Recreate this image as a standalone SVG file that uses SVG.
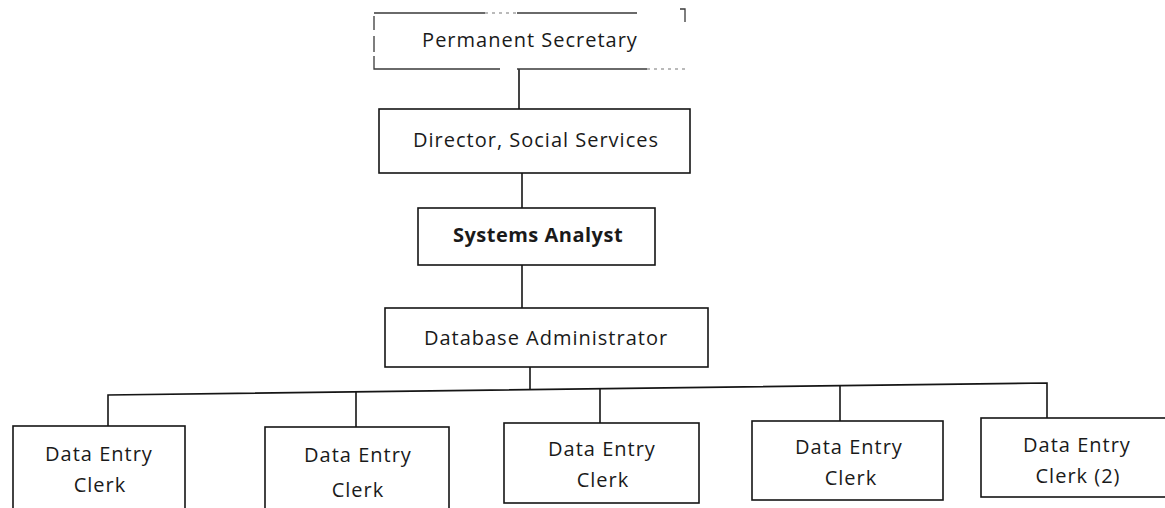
<svg xmlns="http://www.w3.org/2000/svg" width="1165" height="508" viewBox="0 0 1165 508">
<style>
  .box { fill: #ffffff; stroke: #151515; stroke-width: 1.6; }
  .faint { fill: none; stroke: #3a3a3a; stroke-width: 1.3; }
  .dots { fill: none; stroke: #777777; stroke-width: 1.2; stroke-dasharray: 3 4; }
  .lbl { font-family: "Open Sans", "Noto Sans", "DejaVu Sans", sans-serif; font-size: 20px; fill: #1a1a1a; text-anchor: middle; letter-spacing: 1px; }
  .bold { font-weight: bold; letter-spacing: 0.5px; }
  .conn { fill: none; stroke: #151515; stroke-width: 1.6; }
</style>
<rect width="1165" height="508" fill="#ffffff"/>
<g id="connectors">
  <line class="conn" x1="519" y1="69" x2="519" y2="109"/>
  <line class="conn" x1="522" y1="173" x2="522" y2="208"/>
  <line class="conn" x1="522" y1="265" x2="522" y2="308"/>
  <line class="conn" x1="530" y1="367" x2="530" y2="390"/>
  <polyline class="conn" points="108,426 108,395 1047,383 1047,418"/>
  <line class="conn" x1="356" y1="392" x2="356" y2="427"/>
  <line class="conn" x1="600" y1="389" x2="600" y2="423"/>
  <line class="conn" x1="840" y1="386" x2="840" y2="421"/>
</g>
<g id="node-permanent-secretary">
  <path class="faint" d="M374,13 H485 M517,13 H637 M680,9 H685 V22 M374,16 V30 M374,36 V52 M374,56 V69 H500 M517,69 H647"/>
  <path class="dots" d="M485,13 H517 M647,69 H686"/>
  <text class="lbl" x="530" y="47">Permanent Secretary</text>
</g>
<g id="node-director">
  <rect class="box" x="379" y="109" width="311" height="64"/>
  <text class="lbl" x="536" y="147">Director, Social Services</text>
</g>
<g id="node-systems-analyst">
  <rect class="box" x="418" y="208" width="237" height="57"/>
  <text class="lbl bold" x="538" y="242">Systems Analyst</text>
</g>
<g id="node-dba">
  <rect class="box" x="385" y="308" width="323" height="59"/>
  <text class="lbl" x="546" y="345">Database Administrator</text>
</g>
<g id="node-clerk-1">
  <rect class="box" x="13" y="426" width="172" height="90"/>
  <text class="lbl" x="99" y="461">Data Entry</text>
  <text class="lbl" x="100" y="492">Clerk</text>
</g>
<g id="node-clerk-2">
  <rect class="box" x="265" y="427" width="184" height="90"/>
  <text class="lbl" x="358" y="462">Data Entry</text>
  <text class="lbl" x="358" y="497">Clerk</text>
</g>
<g id="node-clerk-3">
  <rect class="box" x="504" y="423" width="195" height="80"/>
  <text class="lbl" x="602" y="456">Data Entry</text>
  <text class="lbl" x="603" y="487">Clerk</text>
</g>
<g id="node-clerk-4">
  <rect class="box" x="752" y="421" width="191" height="79"/>
  <text class="lbl" x="849" y="454">Data Entry</text>
  <text class="lbl" x="851" y="485">Clerk</text>
</g>
<g id="node-clerk-5">
  <rect class="box" x="981" y="418" width="200" height="79"/>
  <text class="lbl" x="1077" y="452">Data Entry</text>
  <text class="lbl" x="1078" y="483">Clerk (2)</text>
</g>
</svg>
